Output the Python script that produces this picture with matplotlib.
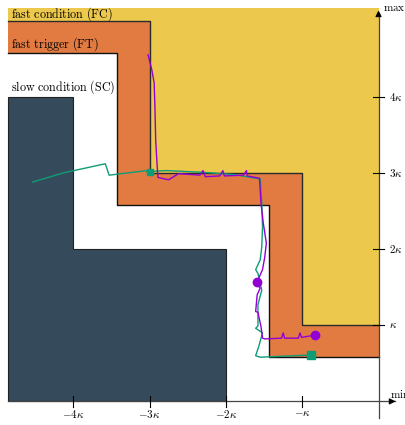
import numpy as np
import matplotlib
matplotlib.use('Agg')
import matplotlib.pyplot as plt
from matplotlib.patches import Polygon

plt.rcParams['mathtext.fontset'] = 'cm'

# region boundaries (units of kappa)
left_edge = -4.86
top_edge = 5.16
fc_steps_x = [-3.0, -1.0]          # fast condition staircase corners
fc_steps_y = [5.0, 3.0, 1.0]
ft_steps_x = [-3.43, -1.435]       # fast trigger staircase corners
ft_steps_y = [4.58, 2.58, 0.58]
sc_steps_x = [-4.0, -2.0]          # slow condition staircase corners
sc_steps_y = [4.0, 2.0]

# trajectories
green_x = [-4.53, -4.13, -3.58, -3.53, -3.04, -3.02, -2.99, -3.01, -2.97, -2.78,
           -2.34, -1.91, -1.55, -1.53, -1.52, -1.53, -1.55, -1.61, -1.58, -1.53,
           -1.58, -1.58, -1.61, -1.52, -1.57, -1.61, -1.55, -0.88]
green_y = [2.88, 3.00, 3.12, 2.97, 3.03, 2.99, 3.01, 2.98, 3.02, 3.03,
           3.01, 2.98, 2.92, 2.60, 2.29, 2.03, 1.86, 1.73, 1.68, 1.46,
           1.27, 0.99, 0.96, 0.90, 0.72, 0.60, 0.58, 0.61]
purple_x = [-3.02, -2.97, -2.94, -2.93, -2.92, -2.90, -2.89, -2.75, -2.62, -2.34,
            -2.30, -2.27, -2.08, -2.04, -2.02, -1.77, -1.73, -1.72, -1.56, -1.54,
            -1.51, -1.47, -1.49, -1.52, -1.56, -1.59, -1.62, -1.55, -1.59, -1.61,
            -1.58, -1.54, -1.52, -1.49, -1.27, -1.25, -1.23, -1.05, -1.03, -1.01, -0.83]
purple_y = [4.55, 4.35, 4.18, 3.87, 3.43, 3.08, 2.94, 2.91, 2.99, 2.97,
            3.03, 2.95, 2.96, 3.03, 2.96, 2.97, 3.03, 2.96, 2.93, 2.60,
            2.34, 2.08, 1.90, 1.73, 1.64, 1.57, 1.56, 1.49, 1.40, 1.18,
            1.17, 0.98, 0.83, 0.82, 0.83, 0.90, 0.83, 0.83, 0.90, 0.84, 0.87]
green_marks = [6, 27]
green_mark_sizes = [4.5, 5.5]
purple_marks = [25, 40]

xticks = [-4, -3, -2, -1]
xtick_labels = [r'$-4\kappa$', r'$-3\kappa$', r'$-2\kappa$', r'$-\kappa$']
yticks = [1, 2, 3, 4]
ytick_labels = [r'$\kappa$', r'$2\kappa$', r'$3\kappa$', r'$4\kappa$']

c_fc = '#ECC94C'
c_ft = '#E27B41'
c_sc = '#354B5B'
c_green = '#0E9C76'
c_purple = '#9400D3'


def stair(xs, ys, x0, x1):
    # corner points of a descending staircase from x0 to x1
    pts = [(x0, ys[0])]
    for i, xv in enumerate(xs):
        pts.append((xv, ys[i]))
        pts.append((xv, ys[i + 1]))
    pts.append((x1, ys[-1]))
    return pts


fig = plt.figure(figsize=(4.06, 4.25), dpi=100)
ax = fig.add_axes([0, 0, 1, 1])
ax.set_xlim(-4.96, 0.36)
ax.set_ylim(-0.31, 5.27)
ax.axis('off')

fc = stair(fc_steps_x, fc_steps_y, left_edge, 0)
ft = stair(ft_steps_x, ft_steps_y, left_edge, 0)
sc = stair(sc_steps_x, sc_steps_y + [0], left_edge, -2.0)[:-1]

ax.add_patch(Polygon([(left_edge, top_edge), (0, top_edge)] + fc[::-1],
                     closed=True, facecolor=c_fc, edgecolor='none', zorder=1))
ax.add_patch(Polygon(fc + ft[::-1], closed=True, facecolor=c_ft, edgecolor='none', zorder=1))
ax.add_patch(Polygon(sc + [(-2.0, 0), (left_edge, 0)], closed=True,
                     facecolor=c_sc, edgecolor='#222222', lw=0.8, zorder=1))
ax.plot(*zip(*fc), color='#2a2a2a', lw=1.0, zorder=2)
ax.plot(*zip(*ft), color='#111111', lw=1.0, zorder=2)

# axes with arrows
ax.plot([left_edge, 0.22], [0, 0], color='#444444', lw=0.9, zorder=3)
ax.plot([0, 0], [-0.22, 5.1], color='#444444', lw=0.9, zorder=3)
ax.annotate('', xy=(0.26, 0), xytext=(0.15, 0),
            arrowprops=dict(arrowstyle='-|>', color='black', lw=0.8, mutation_scale=9), zorder=4)
ax.annotate('', xy=(0, 5.17), xytext=(0, 5.05),
            arrowprops=dict(arrowstyle='-|>', color='black', lw=0.8, mutation_scale=9), zorder=4)
for t, lab in zip(xticks, xtick_labels):
    ax.plot([t, t], [-0.07, 0.07], color='black', lw=0.8, zorder=3)
    ax.text(t, -0.09, lab, ha='center', va='top', fontsize=8)
for t, lab in zip(yticks, ytick_labels):
    ax.plot([-0.07, 0.07], [t, t], color='black', lw=0.8, zorder=3)
    ax.text(0.14, t, lab, ha='left', va='center', fontsize=8)
ax.text(0.06, 5.16, r'$\mathrm{max}$', ha='left', va='center', fontsize=8)
ax.text(0.15, 0.1, r'$\mathrm{min}$', ha='left', va='center', fontsize=8)

# region labels
ax.text(-4.81, 5.09, r'$\mathrm{fast\ condition\ (FC)}$', ha='left', va='center', fontsize=8.7, zorder=5)
ax.text(-4.81, 4.69, r'$\mathrm{fast\ trigger\ (FT)}$', ha='left', va='center', fontsize=8.7, zorder=5)
ax.text(-4.81, 4.13, r'$\mathrm{slow\ condition\ (SC)}$', ha='left', va='center', fontsize=8.7, zorder=5)

ax.plot(green_x, green_y, color=c_green, lw=1.0, zorder=6)
for i, ms in zip(green_marks, green_mark_sizes):
    ax.plot(green_x[i], green_y[i], 's', color=c_green, ms=ms, zorder=7)
ax.plot(purple_x, purple_y, color=c_purple, lw=1.0, zorder=6)
ax.plot([purple_x[i] for i in purple_marks], [purple_y[i] for i in purple_marks], 'o',
        color=c_purple, ms=6, zorder=7)

fig.savefig('out.png', dpi=100)
